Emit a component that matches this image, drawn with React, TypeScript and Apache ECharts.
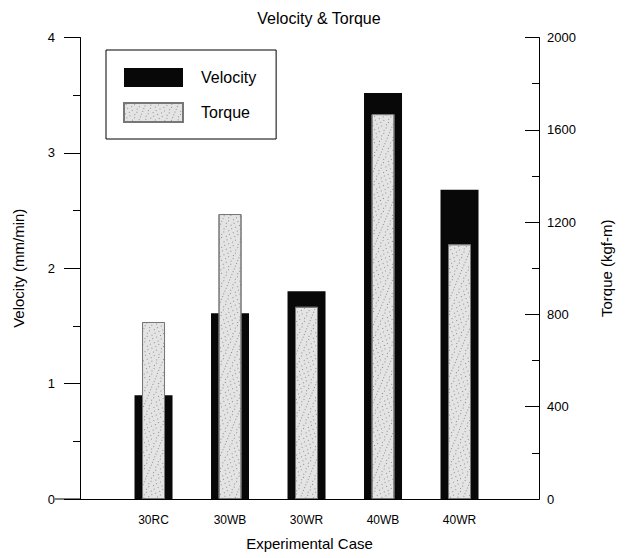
import React, { useEffect, useRef } from "react";
import * as echarts from "echarts";

const categories = ["30RC", "30WB", "30WR", "40WB", "40WR"];
const velocity = [0.9, 1.61, 1.8, 3.52, 2.68];
const torque = [767, 1235, 833, 1668, 1104];
const positions = [1, 2, 3, 4, 5];

const FONT = "Liberation Sans, Arial, sans-serif";

export default function App() {
  const ref = useRef<HTMLDivElement>(null);
  useEffect(() => {
    document.body.style.margin = "0";
    const chart = echarts.init(ref.current!, undefined, { renderer: "svg" });
    const xMin = 0.039;
    const xMax = 6.039;
    chart.setOption({
      animation: false,
      backgroundColor: "#fff",
      textStyle: { fontFamily: FONT, color: "#000" },
      title: {
        text: "Velocity & Torque",
        left: 314,
        textAlign: "center",
        top: 5,
        textStyle: { fontSize: 16, fontWeight: "normal", color: "#000", fontFamily: FONT },
      },
      legend: {
        data: ["Velocity", "Torque"],
        orient: "vertical",
        left: 106,
        top: 50,
        borderColor: "#000",
        borderWidth: 1,
        padding: [18, 20, 16, 17],
        itemWidth: 59,
        itemHeight: 19,
        itemGap: 15,
        icon: "rect",
        textStyle: { fontSize: 16, color: "#000", fontFamily: FONT, padding: [0, 0, 0, 13] },
      },
      grid: { left: 80, right: 86, top: 37.5, bottom: 59 },
      xAxis: [
        {
          type: "value",
          min: xMin,
          max: xMax,
          position: "bottom",
          axisLine: { show: true, lineStyle: { color: "#000", width: 1 } },
          axisTick: { show: false },
          splitLine: { show: false },
          axisLabel: {
            customValues: positions,
            formatter: (v: number) => categories[Math.round(v) - 1] ?? "",
            fontSize: 12,
            color: "#000",
            margin: 15,
            fontFamily: FONT,
          },
          name: "Experimental Case",
          nameLocation: "middle",
          nameGap: 37,
          nameTextStyle: { fontSize: 15, color: "#000", fontFamily: FONT },
        },
        {
          type: "value",
          min: xMin,
          max: xMax,
          position: "top",
          axisLine: { show: true, lineStyle: { color: "#000", width: 1 } },
          axisTick: { show: false },
          axisLabel: { show: false },
          splitLine: { show: false },
        },
      ],
      yAxis: [
        {
          type: "value",
          min: 0,
          max: 4,
          interval: 1,
          position: "left",
          axisLine: { show: true, lineStyle: { color: "#000", width: 1 } },
          axisTick: { show: true, length: 16, lineStyle: { color: "#000" } },
          minorTick: { show: true, splitNumber: 2, length: 7, lineStyle: { color: "#000" } },
          splitLine: { show: false },
          axisLabel: { fontSize: 13, color: "#000", margin: 25, fontFamily: FONT },
          name: "Velocity (mm/min)",
          nameLocation: "middle",
          nameGap: 54,
          nameTextStyle: { fontSize: 15, color: "#000", fontFamily: FONT },
        },
        {
          type: "value",
          min: 0,
          max: 2000,
          interval: 400,
          position: "right",
          axisLine: { show: true, lineStyle: { color: "#000", width: 1 } },
          axisTick: { show: true, inside: true, length: 14, lineStyle: { color: "#000" } },
          minorTick: { show: true, splitNumber: 2, length: 7, lineStyle: { color: "#000" } },
          splitLine: { show: false },
          axisLabel: {
            fontSize: 13,
            color: "#000",
            margin: 8,
            fontFamily: FONT,
            formatter: (v: number) => String(v),
          },
          name: "Torque (kgf-m)",
          nameLocation: "middle",
          nameRotate: 90,
          nameGap: 60,
          nameTextStyle: { fontSize: 15, color: "#000", fontFamily: FONT },
        },
      ],
      graphic: [
        { type: "line", shape: { x1: 55, y1: 499, x2: 80, y2: 499 }, style: { stroke: "#000", lineWidth: 1 } },
        { type: "line", shape: { x1: 67, y1: 37.5, x2: 80, y2: 37.5 }, style: { stroke: "#000", lineWidth: 1 } },
      ],
      series: [
        {
          name: "Velocity",
          type: "bar",
          xAxisIndex: 0,
          yAxisIndex: 0,
          barWidth: 38,
          itemStyle: { color: "#080808" },
          data: velocity.map((v, i) => [positions[i], v]),
        },
        {
          name: "Torque",
          type: "bar",
          xAxisIndex: 1,
          yAxisIndex: 1,
          barWidth: 23,
          itemStyle: {
            color: "#e4e4e4",
            borderColor: "#777",
            borderWidth: 1,
            decal: {
              symbol: "rect",
              symbolSize: 1,
              color: "rgba(70,70,70,0.55)",
              dashArrayX: [[1, 4], [0, 2, 1, 3]],
              dashArrayY: [1, 2],
              rotation: 0.4,
            },
          },
          data: torque.map((v, i) => [positions[i], v]),
        },
      ],
    });
    return () => chart.dispose();
  }, []);
  return <div ref={ref} style={{ width: 625, height: 558 }} />;
}
